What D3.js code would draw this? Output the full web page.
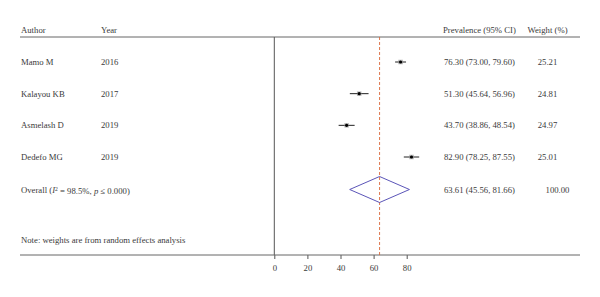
<!DOCTYPE html>
<html><head><meta charset="utf-8">
<script src="https://cdn.jsdelivr.net/npm/d3@7"></script>
<style>body{margin:0;background:#fff}svg{display:block}text{font-family:"Liberation Serif","Times New Roman",serif;fill:#3a3a3a}</style>
</head><body><svg id="c" width="600" height="297"></svg>
<script>
const authors = ["Mamo M","Kalayou KB","Asmelash D","Dedefo MG"];
const years = ["2016","2017","2019","2019"];
const est = [76.30,51.30,43.70,82.90];
const lower = [73.00,45.64,38.86,78.25];
const upper = [79.60,56.96,48.54,87.55];
const weights = [25.21,24.81,24.97,25.01];
const overall = {est:63.61, lower:45.56, upper:81.66, weight:100.00};
const ticks = [0,20,40,60,80];

const svg = d3.select("#c");
const fs = 8.7;
const x = d3.scaleLinear().domain([0,80]).range([274.3,406.7]);
const y = d3.scaleLinear().domain([0,3]).range([62,157]);
const yOverall = 189.5, yHeader = 30, yNote = 240;
const topY = 37, axisY = 255;
const f2 = d3.format(".2f");

// header
const hdr = [["Author",21,"start"],["Year",101,"start"],["Prevalence (95% CI)",443,"start"],["Weight (%)",547.5,"middle"]];
svg.selectAll(".h").data(hdr).join("text").attr("x",d=>d[1]).attr("y",yHeader).attr("dy","0.35em")
  .attr("text-anchor",d=>d[2]).style("font-size",fs+"px").text(d=>d[0]);
svg.append("line").attr("x1",20).attr("x2",580).attr("y1",topY).attr("y2",topY).attr("stroke","#666").attr("stroke-width",1);

// vertical null line & bottom axis
svg.append("line").attr("x1",x(0)).attr("x2",x(0)).attr("y1",topY).attr("y2",axisY).attr("stroke","#555").attr("stroke-width",1);
const axis = d3.axisBottom(x).tickValues(ticks).tickSize(4).tickSizeOuter(0).tickPadding(6);
const ag = svg.append("g").attr("transform",`translate(0,${axisY})`).call(axis);
ag.select(".domain").remove();
ag.selectAll(".tick line").attr("stroke","#555");
ag.selectAll(".tick text").style("font-size",fs+"px").style("font-family","'Liberation Serif',serif").attr("fill","#3a3a3a");
svg.append("line").attr("x1",20).attr("x2",580).attr("y1",axisY).attr("y2",axisY).attr("stroke","#666").attr("stroke-width",1);

// overall dashed line
svg.append("line").attr("x1",x(overall.est)).attr("x2",x(overall.est)).attr("y1",topY).attr("y2",axisY)
  .attr("stroke","#d9683a").attr("stroke-width",0.9).attr("stroke-dasharray","3,2");

// study rows
const rows = authors.map((a,i)=>({a,yr:years[i],e:est[i],l:lower[i],u:upper[i],w:weights[i],i}));
const g = svg.selectAll(".r").data(rows).join("g");
g.append("text").attr("x",21).attr("y",d=>y(d.i)).attr("dy","0.35em").style("font-size",fs+"px").text(d=>d.a);
g.append("text").attr("x",101).attr("y",d=>y(d.i)).attr("dy","0.35em").style("font-size",fs+"px").text(d=>d.yr);
g.append("text").attr("x",444).attr("y",d=>y(d.i)).attr("dy","0.35em").style("font-size",fs+"px")
  .text(d=>`${f2(d.e)} (${f2(d.l)}, ${f2(d.u)})`);
g.append("text").attr("x",547.5).attr("y",d=>y(d.i)).attr("dy","0.35em").attr("text-anchor","middle").style("font-size",fs+"px").text(d=>f2(d.w));
g.append("line").attr("x1",d=>x(d.l)).attr("x2",d=>x(d.u)).attr("y1",d=>y(d.i)).attr("y2",d=>y(d.i)).attr("stroke","#222").attr("stroke-width",1);
const sq = d=>Math.sqrt(d.w)*0.9;
g.append("rect").attr("x",d=>x(d.e)-sq(d)/2).attr("y",d=>y(d.i)-sq(d)/2).attr("width",sq).attr("height",sq).attr("fill","#999").attr("opacity",0.7);
g.append("circle").attr("cx",d=>x(d.e)).attr("cy",d=>y(d.i)).attr("r",1.6).attr("fill","#000");

// overall row
const ot = svg.append("text").attr("x",21).attr("y",yOverall).attr("dy","0.35em").style("font-size",fs+"px");
ot.append("tspan").text("Overall (");
ot.append("tspan").style("font-style","italic").text("I");
ot.append("tspan").attr("dy","-0.35em").style("font-size",(fs*0.65)+"px").text("2");
ot.append("tspan").attr("dy","0.35em").text(" = 98.5%, ");
ot.append("tspan").style("font-style","italic").text("p");
ot.append("tspan").text(" \u2264 0.000)");
svg.append("text").attr("x",444).attr("y",yOverall).attr("dy","0.35em").style("font-size",fs+"px")
  .text(`${f2(overall.est)} (${f2(overall.lower)}, ${f2(overall.upper)})`);
svg.append("text").attr("x",557.5).attr("y",yOverall).attr("dy","0.35em").attr("text-anchor","middle").style("font-size",fs+"px").text(f2(overall.weight));
const dh = 13;
const dpts = [[x(overall.lower),yOverall],[x(overall.est),yOverall-dh],[x(overall.upper),yOverall],[x(overall.est),yOverall+dh]];
svg.append("path").attr("d",d3.line()(dpts)+"Z").attr("fill","none").attr("stroke","#5b55b8").attr("stroke-width",1);

// note
svg.append("text").attr("x",21).attr("y",yNote).attr("dy","0.35em").style("font-size",fs+"px").text("Note: weights are from random effects analysis");
</script></body></html>
